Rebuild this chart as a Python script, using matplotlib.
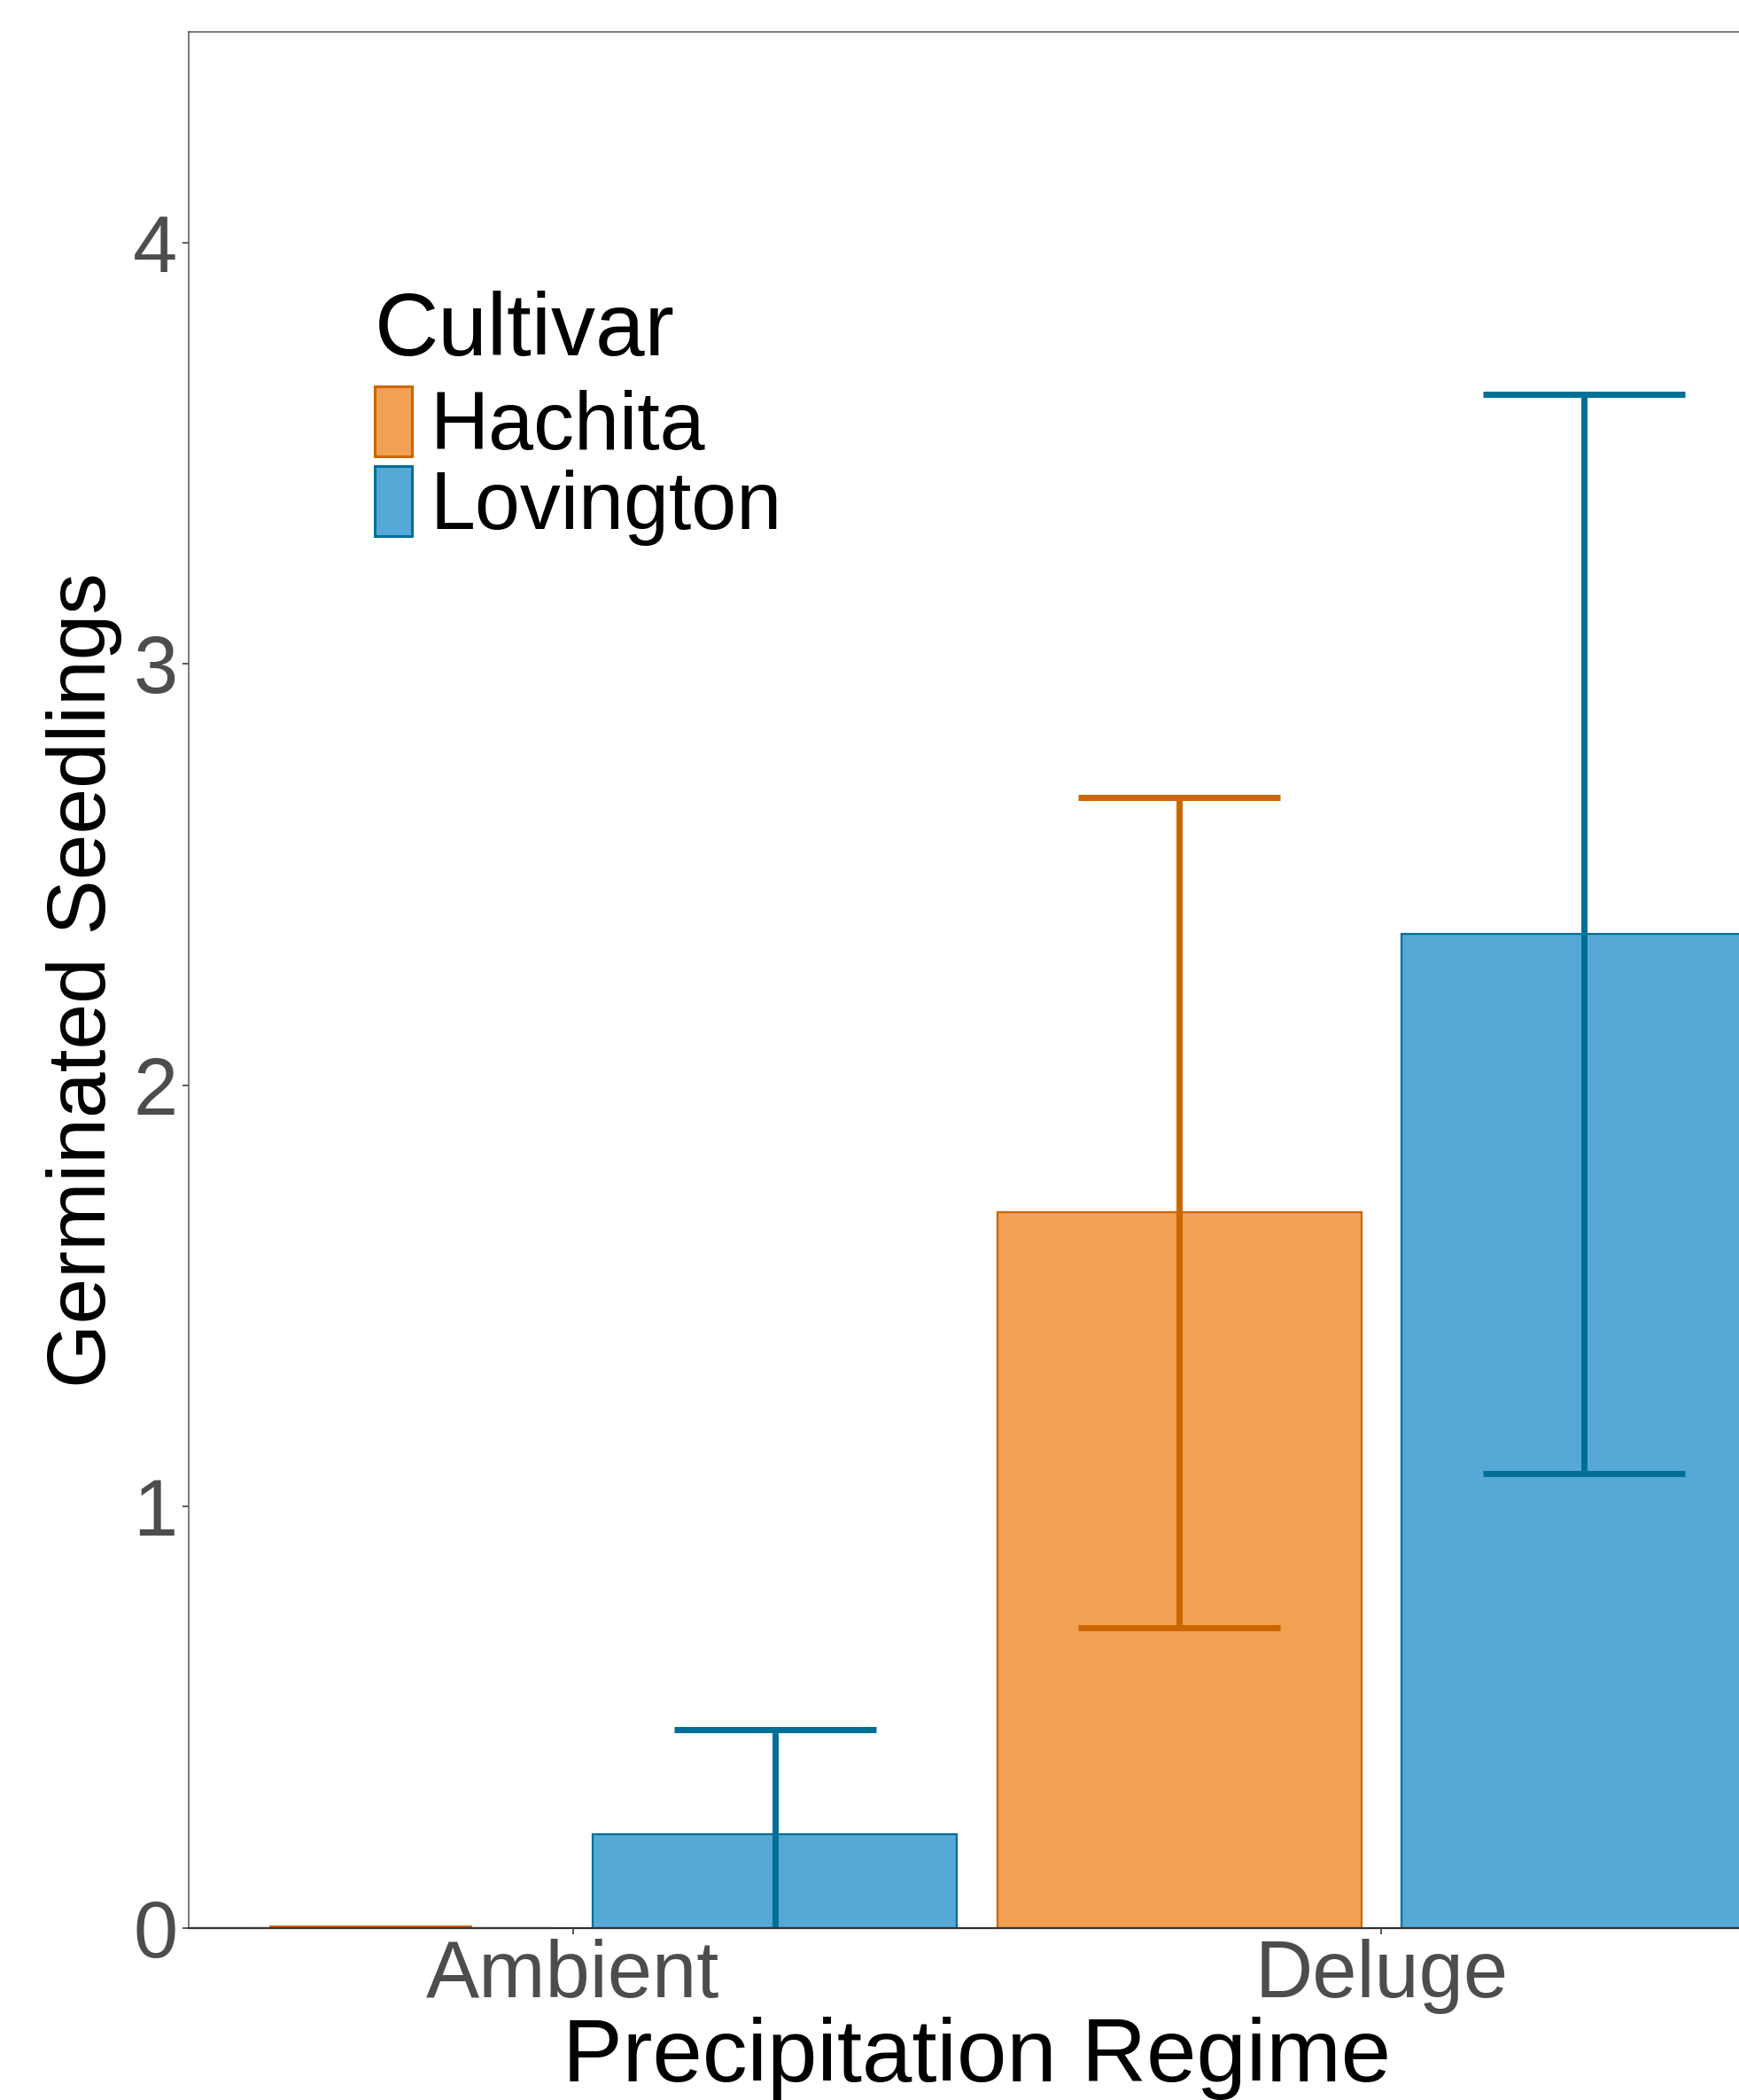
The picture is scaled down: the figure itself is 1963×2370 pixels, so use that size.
import numpy as np
import matplotlib.pyplot as plt
from matplotlib.patches import Patch

plt.rcParams['font.family'] = ['Liberation Sans', 'DejaVu Sans']

# data
regimes = ['Ambient', 'Deluge']
cultivars = ['Hachita', 'Lovington']
hachita_mean = [0.0, 1.698]
hachita_se = [0.0, 0.986]
lovington_mean = [0.222, 2.36]
lovington_se = [0.248, 1.281]
yticks = [0, 1, 2, 3, 4]

fills = ['#F2A053', '#56A9D7']
edges = ['#CC6600', '#006F96']

fig = plt.figure(figsize=(19.63, 23.70), dpi=100)
# panel runs a bit past the right edge (the original image is cropped)
ax = fig.add_axes([0.1085, 0.0819, 0.9068, 0.9029])

x = np.arange(1, len(regimes) + 1)
bar_w = 0.45
offset = 0.25
cap_w = 0.25

means = [hachita_mean, lovington_mean]
ses = [hachita_se, lovington_se]
for k in range(2):
    xs = x + (offset if k else -offset)
    m = np.array(means[k])
    s = np.array(ses[k])
    ax.bar(xs, m, width=bar_w, color=fills[k], edgecolor=edges[k],
           linewidth=1.6, zorder=2)
    ax.vlines(xs, m - s, m + s, color=edges[k], linewidth=5, zorder=3)
    ax.hlines(m + s, xs - cap_w / 2, xs + cap_w / 2, color=edges[k],
              linewidth=5, zorder=3)
    ax.hlines(m - s, xs - cap_w / 2, xs + cap_w / 2, color=edges[k],
              linewidth=5, zorder=3)

ax.set_xlim(0.525, 2.475)
ax.set_ylim(0, 4.5)
ax.set_xticks(x)
ax.set_xticklabels(regimes)
ax.set_yticks(yticks)

ax.tick_params(axis='both', labelsize=65, colors='#4D4D4D', length=5,
               width=1.3, pad=4)
for lab in ax.get_xticklabels() + ax.get_yticklabels():
    lab.set_color('#4D4D4D')

for side in ['left', 'top', 'right']:
    ax.spines[side].set_color('#555555')
    ax.spines[side].set_linewidth(1.1)
ax.spines['bottom'].set_color('#333333')
ax.spines['bottom'].set_linewidth(1.6)
ax.spines['bottom'].set_zorder(5)

ax.set_xlabel('Precipitation Regime', fontsize=73, color='black', labelpad=2)
ax.set_ylabel('Germinated Seedlings', fontsize=67, color='black', labelpad=9)

handles = [Patch(facecolor=fills[i], edgecolor=edges[i], linewidth=2.2)
           for i in range(2)]
leg = fig.legend(handles, cultivars, title='Cultivar', loc='upper left',
                 bbox_to_anchor=(0.2155, 0.8615), frameon=False,
                 fontsize=66, title_fontsize=72, handlelength=0.46,
                 handleheight=0.95, handletextpad=0.22, labelspacing=0.0,
                 borderpad=0, borderaxespad=0)
leg._legend_box.align = 'left'
leg._legend_box.sep = 10

fig.savefig('out.png', dpi=100)
